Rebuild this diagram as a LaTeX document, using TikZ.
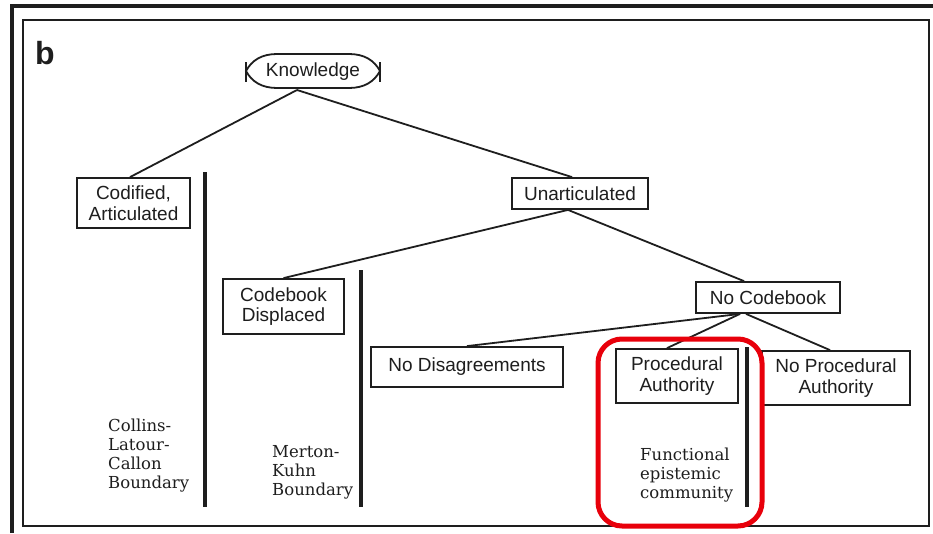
\documentclass[tikz,border=0pt]{standalone}
\usepackage{fontspec}
\newfontfamily\sansf{Liberation Sans}
\newfontfamily\seriff{DejaVu Serif}
\newcommand{\boxfont}{\sansf\fontsize{19}{20.5}\selectfont}
\newcommand{\notefont}{\seriff\fontsize{16.5}{19}\selectfont}
\definecolor{ink}{HTML}{1E1E1E}
\definecolor{hilite}{HTML}{E8000B}
\begin{document}
\begin{tikzpicture}[x=1pt,y=-1pt,
  catbox/.style={draw=ink, line width=1.8pt, inner sep=0pt, align=center,
    font=\boxfont, text=ink},
  link/.style={draw=ink, line width=1.8pt},
  wall/.style={draw=ink, line width=3.8pt},
  note/.style={anchor=north west, inner sep=0pt, align=left, font=\notefont, text=ink}]
\useasboundingbox (0,0) rectangle (933,533);
\fill[white] (0,0) rectangle (933,533);

% frames
\draw[ink, line width=3.8pt] (12,533) -- (12,6) -- (933,6);
\draw[ink, line width=2.4pt] (23,20) rectangle (929,526);

% panel letter
\node[anchor=base west, inner sep=0pt, font=\sansf\bfseries\fontsize{32}{32}\selectfont, text=ink] (lbl) at (35,64) {b};

% root node
\node[inner sep=0pt, font=\boxfont, text=ink, minimum width=134pt, minimum height=34pt] (know) at (313,72) {Knowledge};
\draw[ink, line width=1.8pt] (246,71) .. controls (252,60) and (262,54) .. (277,54) -- (349,54)
  .. controls (364,54) and (374,60) .. (380,71) .. controls (374,82) and (364,88) .. (349,88)
  -- (277,88) .. controls (262,88) and (252,82) .. (246,71) -- cycle;
\draw[ink, line width=1.8pt] (246,62) -- (246,82);
\draw[ink, line width=1.8pt] (380,62) -- (380,82);
\coordinate (kroot) at (297,90);

% category boxes
\node[catbox, minimum width=113pt, minimum height=50pt] (cod) at (133.5,203) {Codified,\\Articulated};
\node[catbox, minimum width=136pt, minimum height=31pt] (una) at (580,193.5) {Unarticulated};
\node[catbox, minimum width=121pt, minimum height=55pt] (cbd) at (283.5,306.5) {Codebook\\Displaced};
\node[catbox, minimum width=144pt, minimum height=31pt] (noc) at (768,297.5) {No Codebook};
\node[catbox, minimum width=192pt, minimum height=40pt] (nod) at (467,367) {No Disagreements};
\node[catbox, minimum width=122pt, minimum height=54pt] (pa) at (677,376) {Procedural\\Authority};
\node[catbox, minimum width=148pt, minimum height=54pt] (npa) at (836,378) {No Procedural\\Authority};

% tree links
\draw[link] (kroot) -- ([xshift=-3.5pt]cod.north);
\draw[link] (kroot) -- ([xshift=-8pt]una.north);
\draw[link] ([xshift=-12pt]una.south) -- (cbd.north);
\draw[link] ([xshift=-12pt]una.south) -- ([xshift=-24pt]noc.north);
\draw[link] ([xshift=-28pt]noc.south) -- (nod.north);
\draw[link] ([xshift=-28pt]noc.south) -- ([xshift=-10pt]pa.north);
\draw[link] ([xshift=-22pt]noc.south) -- ([xshift=-6pt]npa.north);

% boundaries
\coordinate (w1t) at (205,172); \coordinate (w1b) at (205,507);
\coordinate (w2t) at (361,270); \coordinate (w2b) at (361,507);
\coordinate (w3t) at (747,347); \coordinate (w3b) at (747,507);
\draw[wall] (w1t) -- (w1b);
\draw[wall] (w2t) -- (w2b);
\draw[wall] (w3t) -- (w3b);

\node[note] (clc) at (108,419) {Collins-\\Latour-\\Callon\\Boundary};
\node[note] (mk) at (272,445) {Merton-\\Kuhn\\Boundary};
\node[note] (fec) at (640,448) {Functional\\epistemic\\community};

% highlight
\draw[hilite, line width=5pt, rounded corners=24pt] (598,339) rectangle (762,526);
\end{tikzpicture}
\end{document}
